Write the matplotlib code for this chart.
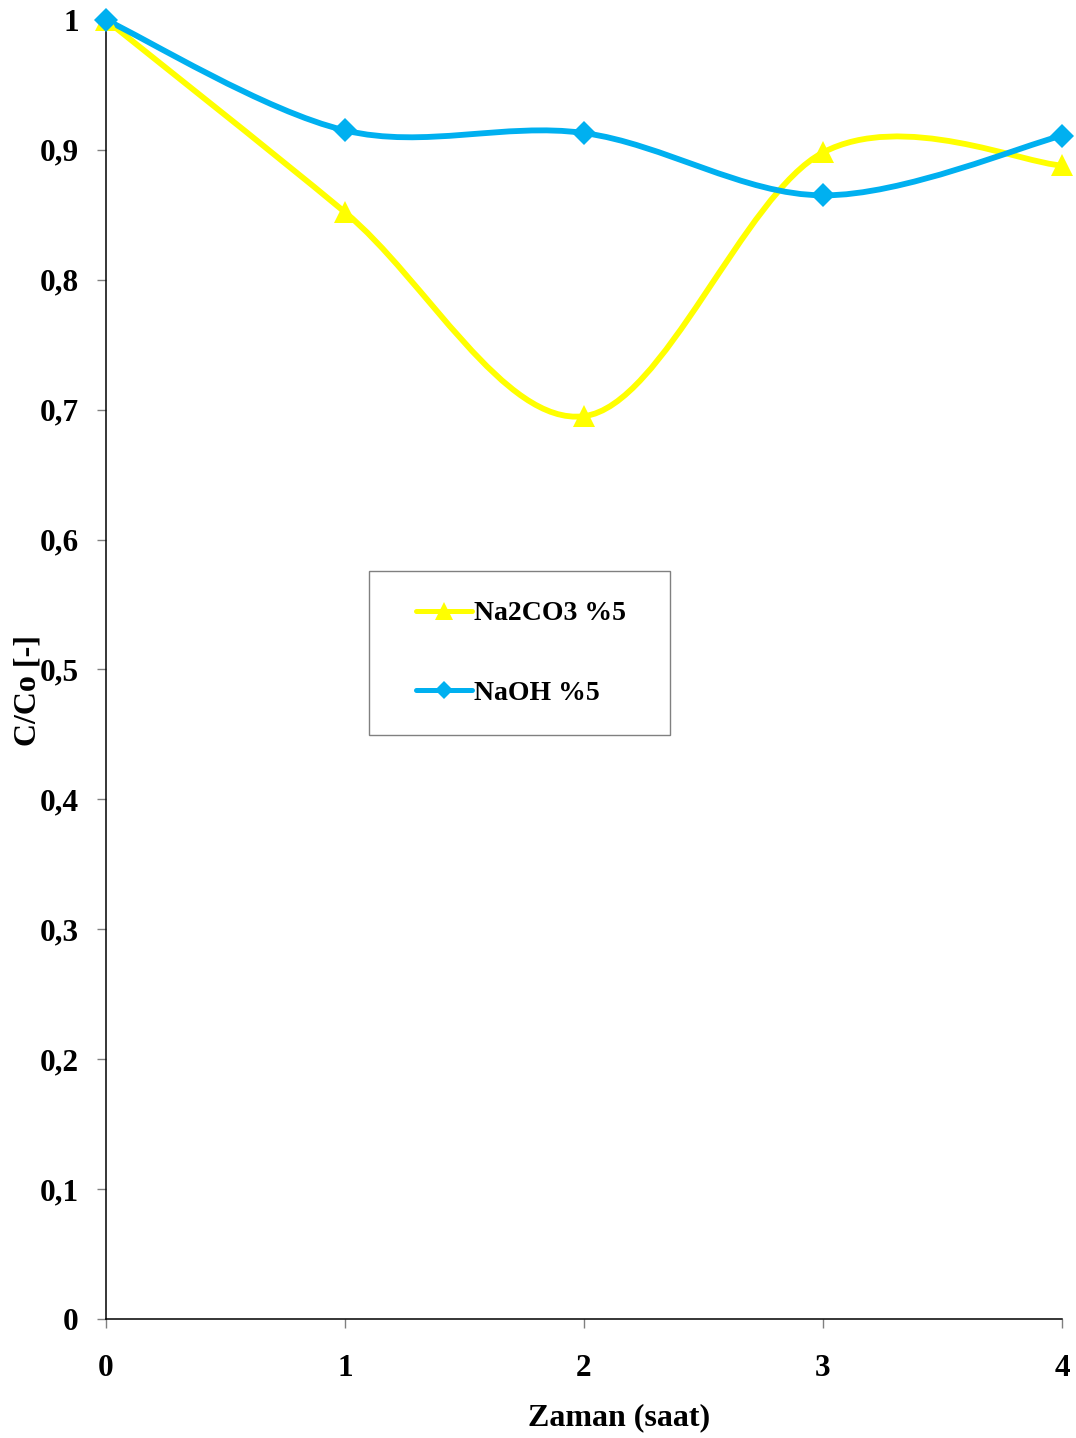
import matplotlib
matplotlib.use("Agg")
from matplotlib import pyplot as plt
from matplotlib.path import Path
from matplotlib.patches import PathPatch, Rectangle
from matplotlib.lines import Line2D
from matplotlib.ticker import FuncFormatter, MultipleLocator

# Data
saat = [0, 1, 2, 3, 4]
na2co3 = [1.0, 0.852, 0.695, 0.898, 0.888]
naoh = [1.0, 0.915, 0.913, 0.865, 0.911]
labels = ["Na2CO3 %5", "NaOH %5"]

YELLOW = "#FFFF00"
BLUE = "#00B0F0"

plt.rcParams["font.family"] = ["Liberation Serif", "DejaVu Serif"]
plt.rcParams["font.weight"] = "bold"


def smooth_path(x, y):
    # smoothed line: cubic Bezier segments with Catmull-Rom tangents
    n = len(x)
    verts = [(x[0], y[0])]
    codes = [Path.MOVETO]
    for i in range(n - 1):
        xp, yp = (x[i - 1], y[i - 1]) if i > 0 else (x[i], y[i])
        xn, yn = (x[i + 2], y[i + 2]) if i + 2 < n else (x[i + 1], y[i + 1])
        c1 = (x[i] + (x[i + 1] - xp) / 6, y[i] + (y[i + 1] - yp) / 6)
        c2 = (x[i + 1] - (xn - x[i]) / 6, y[i + 1] - (yn - y[i]) / 6)
        verts += [c1, c2, (x[i + 1], y[i + 1])]
        codes += [Path.CURVE4] * 3
    return Path(verts, codes)


W, H = 1076, 1438
fig = plt.figure(figsize=(W / 100, H / 100), dpi=100)
ax = fig.add_axes([106 / W, 1 - 1319 / H, 956 / W, 1299 / H])

LW = 4.2
series = [(na2co3, YELLOW, "^", 16.5), (naoh, BLUE, "D", 12)]
handles = []
for (vals, col, mk, ms), lab in zip(series, labels):
    ax.add_patch(PathPatch(smooth_path(saat, vals), facecolor="none",
                           edgecolor=col, lw=LW, capstyle="round",
                           joinstyle="round", clip_on=False))
    ax.plot(saat, vals, ls="none", marker=mk, ms=ms, color=col,
            mec=col, mew=0, clip_on=False, zorder=3)
    handles.append(Line2D([], [], color=col, lw=LW - 0.6, marker=mk,
                          ms=ms * 0.75, mew=0, solid_capstyle="round"))

ax.set_xlim(0, 4)
ax.set_ylim(0, 1)
ax.xaxis.set_major_locator(MultipleLocator(1))
ax.yaxis.set_major_locator(MultipleLocator(0.1))
ax.yaxis.set_major_formatter(FuncFormatter(lambda v, p: ("%g" % round(v, 1)).replace(".", ",")))

for s in ["top", "right"]:
    ax.spines[s].set_visible(False)
for s in ["left", "bottom"]:
    ax.spines[s].set_linewidth(1.1)
    ax.spines[s].set_color("black")

ax.tick_params(axis="y", direction="out", length=6.5, width=1, color="#808080",
               pad=13, labelsize=22.5)
ax.tick_params(axis="x", direction="out", length=6.5, width=1, color="#808080",
               pad=19, labelsize=22.5)
for t in ax.get_xticklabels() + ax.get_yticklabels():
    t.set_fontweight("bold")

fig.text(619 / W, 1 - 1418 / H, "Zaman (saat)", ha="center", va="center",
         fontsize=23, fontweight="bold")
fig.text(28 / W, 1 - 690 / H, "C/Co [-]", ha="center", va="center",
         rotation=90, fontsize=23, fontweight="bold")

# legend frame
fig.patches.append(Rectangle((369 / W, 1 - 735 / H), 301 / W, 164 / H,
                             transform=fig.transFigure, facecolor="white",
                             edgecolor="#808080", lw=1, zorder=5))
leg = fig.legend(handles, labels, loc="upper left",
                 bbox_to_anchor=(416 / W, 1 - 601 / H),
                 frameon=False, borderaxespad=0, borderpad=0,
                 handlelength=2.0, handletextpad=0.1,
                 labelspacing=1.95, prop={"size": 20, "weight": "bold"})
leg.set_zorder(6)

fig.savefig("out.png", dpi=100)
